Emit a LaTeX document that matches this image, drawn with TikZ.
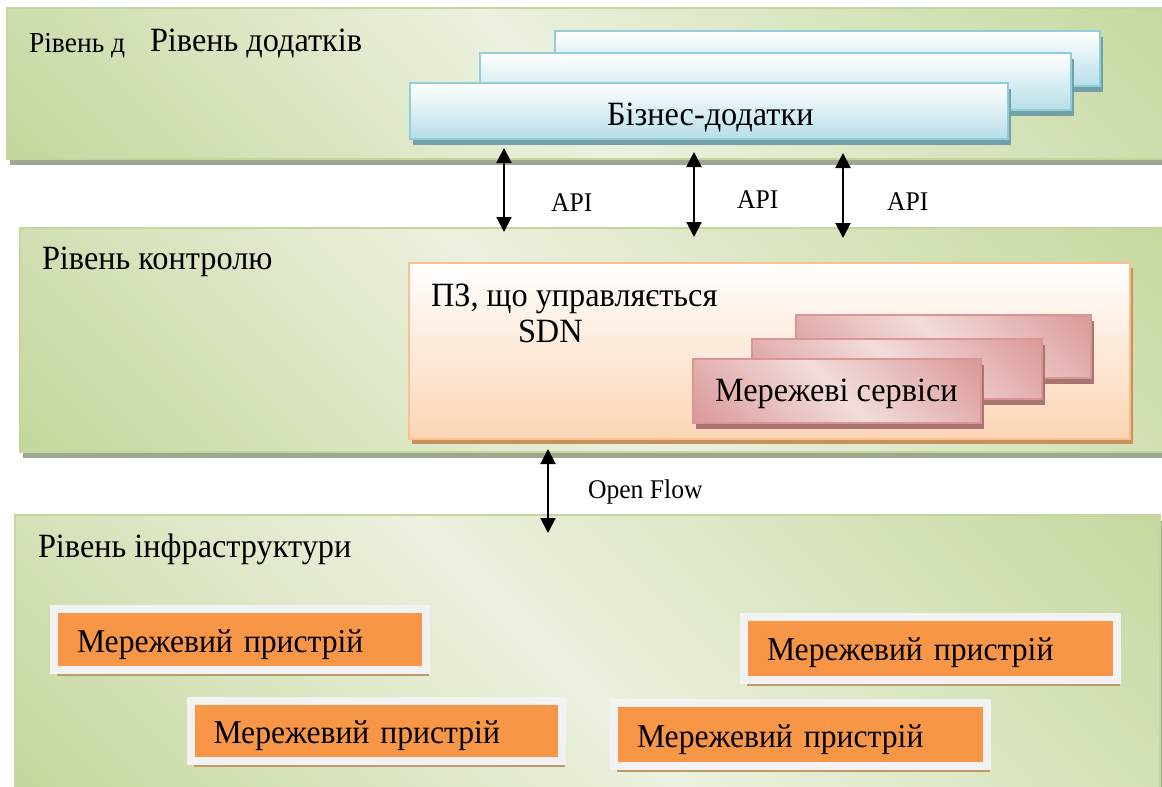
\documentclass[tikz,border=0pt]{standalone}
\usepackage{fontspec}
\setmainfont{Liberation Serif}[FakeStretch=0.95]
\usetikzlibrary{arrows.meta,shadows}
\definecolor{gDark}{HTML}{C3D69B}
\definecolor{gLight}{HTML}{EBF1DE}
\definecolor{gBorder}{HTML}{C3D69B}
\definecolor{gShadow}{HTML}{9EA78F}
\definecolor{bBottom}{HTML}{B7DEE8}
\definecolor{bBorder}{HTML}{92CDDC}
\definecolor{bShadow}{HTML}{72A0A8}
\definecolor{pBottom}{HTML}{FBD4B4}
\definecolor{pBorder}{HTML}{FAC090}
\definecolor{pShadow}{HTML}{C8905C}
\definecolor{kDark}{HTML}{DB9B9A}
\definecolor{kLight}{HTML}{F2DCDB}
\definecolor{kBorder}{HTML}{D99694}
\definecolor{kShadow}{HTML}{AA7473}
\definecolor{oFill}{HTML}{F79646}
\definecolor{oFrame}{HTML}{F2F2F2}
\definecolor{oShadow}{HTML}{C09A68}
\pgfdeclarehorizontalshading{layergrad}{100bp}{color(0bp)=(gDark); color(14bp)=(gDark); color(48bp)=(gLight); color(88bp)=(gDark); color(100bp)=(gDark)}
\pgfdeclarehorizontalshading{pinkgrad}{100bp}{color(0bp)=(kDark); color(16bp)=(kDark); color(50bp)=(kLight); color(84bp)=(kDark); color(100bp)=(kDark)}
\begin{document}
\begin{tikzpicture}[x=1pt,y=-1pt,
  box/.style={rectangle, inner sep=0pt, outer sep=0pt},
  layer/.style={box, draw=gBorder, line width=2pt, shade, shading=layergrad, shading angle=45,
    drop shadow={shadow xshift=3pt, shadow yshift=-6pt, fill=gShadow, opacity=1}},
  appbox/.style={box, draw=bBorder, line width=2pt, top color=white, bottom color=bBottom,
    drop shadow={shadow xshift=3pt, shadow yshift=-6pt, fill=bShadow, opacity=1}},
  ctlbox/.style={box, draw=pBorder, line width=2pt, top color=white, bottom color=pBottom,
    drop shadow={shadow xshift=3pt, shadow yshift=-5pt, fill=pShadow, opacity=1}},
  svcbox/.style={box, draw=kBorder, line width=2pt, shade, shading=pinkgrad, shading angle=45,
    drop shadow={shadow xshift=3pt, shadow yshift=-6pt, fill=kShadow, opacity=1}},
  devbox/.style={box, fill=oFill, draw=oFrame, line width=8pt, align=left, inner xsep=23pt,
    text height=25pt, text depth=0pt,
    font=\fontsize{33.3}{38}\selectfont,
    drop shadow={shadow xshift=3pt, shadow yshift=-6pt, fill=oShadow, opacity=1}},
  lbl/.style={inner sep=0pt, outer sep=0pt, anchor=base west},
  big/.style={lbl, font=\fontsize{34}{40}\selectfont},
  small/.style={lbl, font=\fontsize{27}{32}\selectfont},
  arr/.style={{Triangle[width=15pt,length=15pt]}-{Triangle[width=15pt,length=15pt]}, line width=2pt, black},
]
\useasboundingbox (0,0) rectangle (1162,787);

% layers
\node[layer, minimum width=1163pt, minimum height=151pt] (appl) at (588.5,83.5) {};
\node[layer, minimum width=1150pt, minimum height=224pt] (ctl) at (595,340) {};
\node[layer, minimum width=1145pt, minimum height=280pt] (infra) at (587.5,655) {};

% application layer
\node[lbl, font=\fontsize{29}{34}\selectfont] (t1a) at (29,52) {Рівень д};
\node[big] (t1b) at (150,51) {Рівень додатків};
\node[appbox, minimum width=545pt, minimum height=55pt] (b3) at (827.5,58.5) {};
\node[appbox, minimum width=591pt, minimum height=57pt] (b2) at (775.5,81.5) {};
\node[appbox, minimum width=598pt, minimum height=56pt] (b1) at (709,111) {};
\node[big] (bt) at (607,125) {Бізнес-додатки};

% control layer
\node[big] (t2) at (42,269) {Рівень контролю};
\node[ctlbox, minimum width=721pt, minimum height=176pt] (sdn) at (769.5,351) {};
\node[big] (sdn1) at (431,306) {ПЗ, що управляється};
\node[big] (sdn2) at (518,342) {SDN};
\node[svcbox, minimum width=295pt, minimum height=63pt] (s3) at (943.5,346.5) {};
\node[svcbox, minimum width=290pt, minimum height=60pt] (s2) at (897,369) {};
\node[svcbox, minimum width=288pt, minimum height=64pt] (s1) at (837,391) {};
\node[big] (st) at (715,401) {Мережеві сервіси};

% infrastructure layer
\node[big] (t3) at (38,557) {Рівень інфраструктури};
\node[devbox, text width=326pt, minimum height=61pt] (d1) at (240,639.5) {Мережевий пристрій};
\node[devbox, text width=325pt, minimum height=60pt] (d2) at (376,731) {Мережевий пристрій};
\node[devbox, text width=327pt, minimum height=63pt] (d3) at (930.5,648) {Мережевий пристрій};
\node[devbox, text width=327pt, minimum height=63pt] (d4) at (800.5,734.5) {Мережевий пристрій};

% connectors
\coordinate (a1t) at (504,148); \coordinate (a1b) at (504,232);
\coordinate (a2t) at (694,152); \coordinate (a2b) at (694,237);
\coordinate (a3t) at (843,153); \coordinate (a3b) at (843,238);
\coordinate (oft) at (548,449); \coordinate (ofb) at (548,533);
\draw[arr] (a1t) -- (a1b);
\draw[arr] (a2t) -- (a2b);
\draw[arr] (a3t) -- (a3b);
\draw[arr] (oft) -- (ofb);
\node[small] (api1) at (551,211) {API};
\node[small] (api2) at (737,208) {API};
\node[small] (api3) at (887,210) {API};
\node[small] (of) at (588,498) {Open Flow};
\end{tikzpicture}
\end{document}
